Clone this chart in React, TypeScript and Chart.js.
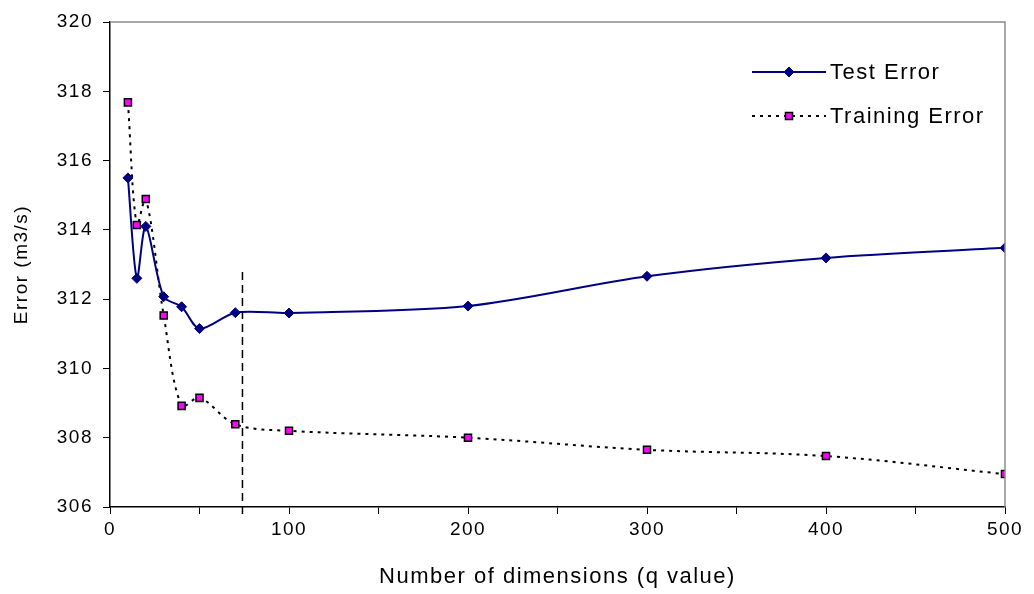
import React, { useEffect, useRef } from "react";
import { Chart, registerables } from "chart.js";

Chart.register(...registerables);

const testX = [10, 15, 20, 30, 40, 50, 70, 100, 200, 300, 400, 500];
const testY = [315.5, 312.6, 314.1, 312.07, 311.78, 311.15, 311.61, 311.6, 311.8, 312.66, 313.19, 313.48];
const trainX = [10, 15, 20, 30, 40, 50, 70, 100, 200, 300, 400, 500];
const trainY = [317.68, 314.14, 314.89, 311.53, 308.92, 309.15, 308.39, 308.2, 308.0, 307.65, 307.47, 306.95];
const cutoffX = 74;
const cutoffTopY = 312.78;
const legendLabels = ["Test Error", "Training Error"];
const xTitle = "Number of dimensions (q value)";
const yTitle = "Error (m3/s)";

const FONT = "'Liberation Sans', Arial, sans-serif";

export default function App() {
  const ref = useRef<HTMLCanvasElement | null>(null);
  useEffect(() => {
    if (!ref.current) return;
    const spacing = {
      id: "spacing",
      beforeDraw(chart: any) {
        (chart.ctx as any).letterSpacing = "1.5px";
      },
    };
    const extras = {
      id: "extras",
      afterDatasetsDraw(chart: any) {
        const { ctx, chartArea, scales } = chart;
        ctx.save();
        ctx.strokeStyle = "#8c8c8c";
        ctx.lineWidth = 1.5;
        ctx.beginPath();
        ctx.moveTo(chartArea.left, chartArea.top);
        ctx.lineTo(chartArea.right, chartArea.top);
        ctx.lineTo(chartArea.right, chartArea.bottom);
        ctx.stroke();
        const px = scales.x.getPixelForValue(cutoffX);
        ctx.strokeStyle = "#000";
        ctx.lineWidth = 1.5;
        ctx.setLineDash([8, 5]);
        ctx.beginPath();
        ctx.moveTo(px, scales.y.getPixelForValue(cutoffTopY));
        ctx.lineTo(px, chartArea.bottom + 9);
        ctx.stroke();
        ctx.setLineDash([]);
        const lx0 = chartArea.left + 642;
        const lx1 = lx0 + 74;
        const rows = [chartArea.top + 50, chartArea.top + 94];
        chart.data.datasets.forEach((ds: any, i: number) => {
          const y = rows[i];
          ctx.strokeStyle = ds.borderColor;
          ctx.lineWidth = ds.borderWidth;
          ctx.setLineDash(ds.borderDash || []);
          ctx.beginPath();
          ctx.moveTo(lx0, y);
          ctx.lineTo(lx1, y);
          ctx.stroke();
          ctx.setLineDash([]);
          const cx = (lx0 + lx1) / 2;
          ctx.fillStyle = ds.pointBackgroundColor;
          ctx.strokeStyle = ds.pointBorderColor;
          ctx.lineWidth = ds.pointBorderWidth;
          ctx.beginPath();
          if (ds.pointStyle === "rectRot") {
            const r = ds.pointRadius;
            ctx.moveTo(cx, y - r);
            ctx.lineTo(cx + r, y);
            ctx.lineTo(cx, y + r);
            ctx.lineTo(cx - r, y);
            ctx.closePath();
          } else {
            const s = ds.pointRadius * Math.SQRT1_2;
            ctx.rect(cx - s, y - s, 2 * s, 2 * s);
          }
          ctx.fill();
          ctx.stroke();
          ctx.fillStyle = "#000";
          ctx.font = `22px ${FONT}`;
          ctx.textBaseline = "middle";
          ctx.textAlign = "left";
          ctx.fillText(legendLabels[i], lx1 + 4, y + 1);
        });
        ctx.restore();
      },
    };
    const chart = new Chart(ref.current, {
      type: "line",
      data: {
        datasets: [
          {
            label: legendLabels[0],
            data: testX.map((x, i) => ({ x, y: testY[i] })),
            borderColor: "#000080",
            borderWidth: 2,
            pointStyle: "rectRot",
            pointRadius: 5,
            pointBackgroundColor: "#000080",
            pointBorderColor: "#000080",
            pointBorderWidth: 1,
            tension: 0.3,
          } as any,
          {
            label: legendLabels[1],
            data: trainX.map((x, i) => ({ x, y: trainY[i] })),
            borderColor: "#000",
            borderWidth: 2,
            borderDash: [3, 5],
            pointStyle: "rect",
            pointRadius: 5,
            pointBackgroundColor: "#ff00ff",
            pointBorderColor: "#000",
            pointBorderWidth: 1.5,
            tension: 0.35,
          } as any,
        ],
      },
      options: {
        animation: false,
        responsive: false,
        layout: { padding: { top: 22, right: 29, left: 0, bottom: 0 } },
        plugins: { legend: { display: false }, tooltip: { enabled: false } },
        scales: {
          x: {
            type: "linear",
            min: 0,
            max: 500,
            border: { color: "#000", width: 1.5 },
            grid: { display: true, drawOnChartArea: false, drawTicks: true, tickLength: 7, color: "#000" },
            ticks: {
              stepSize: 50,
              color: "#000",
              font: { family: FONT, size: 19 },
              padding: 4,
              maxRotation: 0,
              autoSkip: false,
              callback: (v: any) => (Number(v) % 100 === 0 ? String(v) : ""),
            },
            title: { display: true, text: xTitle, color: "#000", font: { family: FONT, size: 22 }, padding: { top: 0, bottom: 4 } },
            afterFit: (s: any) => {
              s.height = 87;
            },
          },
          y: {
            min: 306,
            max: 320,
            border: { color: "#000", width: 1.5 },
            grid: { display: true, drawOnChartArea: false, drawTicks: true, tickLength: 7, color: "#000" },
            ticks: { stepSize: 2, color: "#000", font: { family: FONT, size: 19 }, padding: 10 },
            title: { display: true, text: yTitle, color: "#000", font: { family: FONT, size: 19 }, padding: { top: 10, bottom: 0 } },
            afterFit: (s: any) => {
              s.width = 110;
            },
          },
        },
      },
      plugins: [spacing, extras],
    });
    return () => chart.destroy();
  }, []);
  return (
    <div style={{ position: "fixed", left: 0, top: 0, width: 1034, height: 594, background: "#fff" }}>
      <canvas ref={ref} width={1034} height={594} />
    </div>
  );
}
